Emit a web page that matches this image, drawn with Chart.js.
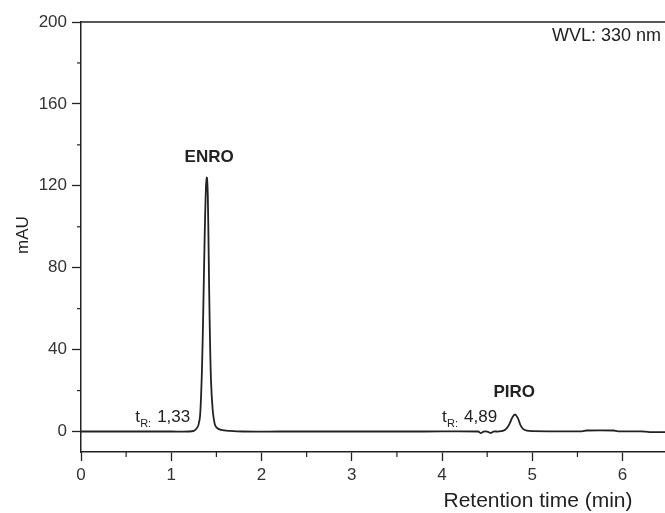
<!DOCTYPE html>
<html>
<head>
<meta charset="utf-8">
<script src="https://cdn.jsdelivr.net/npm/chart.js@4"></script>
<style>
  html, body { margin: 0; padding: 0; background: #fff; }
  #wrap { width: 665px; height: 513px; }
</style>
</head>
<body>
<div id="wrap"><canvas id="chrom" width="665" height="513"></canvas></div>
<script>
// chromatogram (time in min, absorbance in mAU)
var timeMin = [0, 0.5, 1.0, 1.2, 1.25, 1.28, 1.30, 1.32, 1.34, 1.355, 1.37, 1.385, 1.395, 1.405, 1.415, 1.425, 1.44, 1.46, 1.48, 1.50, 1.55, 1.65, 1.8, 2.2, 3.0, 3.8, 4.4, 4.43, 4.46, 4.5, 4.54, 4.57, 4.62, 4.68, 4.72, 4.75, 4.78, 4.81, 4.84, 4.87, 4.9, 4.94, 5.0, 5.3, 5.55, 5.6, 5.9, 5.95, 6.2, 6.3, 6.5];
var absorbance = [0, 0, 0, 0, 0.3, 1.5, 3, 8, 30, 60, 95, 120, 124, 115, 85, 55, 25, 10, 4, 2, 0.8, 0.3, 0, 0, 0, 0, 0, -0.8, 0, 0, -0.7, 0, 0, 0.4, 1.8, 4, 7, 8.3, 6.5, 3, 1.2, 0.4, 0.2, 0.1, 0.1, 0.5, 0.5, 0.1, 0.1, -0.3, -0.3];

var xTicks = [0, 1, 2, 3, 4, 5, 6];
var xMinor = [0.5, 1.5, 2.5, 3.5, 4.5, 5.5];
var yTicks = [0, 40, 80, 120, 160, 200];
var yMinor = [20, 60, 100, 140, 180];

var peakNames = ["ENRO", "PIRO"];
var peakNameAt = [[1.42, 131.5], [4.8, 16.8]];
var rtLabels = ["1,33", "4,89"];
var rtLabelAt = [[0.6, 4.5], [4.0, 4.5]];

var points = [];
for (var i = 0; i < timeMin.length; i++) points.push({ x: timeMin[i], y: absorbance[i] });

var FONT = "'Liberation Sans', Arial, sans-serif";
var INK = "#222";

var decor = {
  id: "decor",
  afterDraw: function(chart) {
    var ctx = chart.ctx, a = chart.chartArea;
    var xs = chart.scales.x, ys = chart.scales.y;
    ctx.save();
    ctx.strokeStyle = INK;
    ctx.lineWidth = 1.5;
    // top frame
    ctx.beginPath();
    ctx.moveTo(a.left, a.top);
    ctx.lineTo(a.right, a.top);
    ctx.stroke();
    // minor ticks
    ctx.lineWidth = 1.2;
    yMinor.forEach(function(v) {
      var p = ys.getPixelForValue(v);
      ctx.beginPath(); ctx.moveTo(a.left - 4, p); ctx.lineTo(a.left, p); ctx.stroke();
    });
    xMinor.forEach(function(v) {
      var p = xs.getPixelForValue(v);
      ctx.beginPath(); ctx.moveTo(p, a.bottom); ctx.lineTo(p, a.bottom + 5); ctx.stroke();
    });
    // axis titles
    ctx.fillStyle = INK;
    ctx.font = "21px " + FONT;
    ctx.textAlign = "center";
    ctx.textBaseline = "middle";
    ctx.fillText("Retention time (min)", 538, 501);
    ctx.save();
    ctx.translate(23, 235);
    ctx.rotate(-Math.PI / 2);
    ctx.font = "17px " + FONT;
    ctx.fillText("mAU", 0, 0);
    ctx.restore();
    // wavelength note
    ctx.font = "18px " + FONT;
    ctx.textAlign = "left";
    ctx.fillText("WVL: 330 nm", 552, 36);
    // peak names
    ctx.font = "bold 17px " + FONT;
    ctx.textAlign = "center";
    ctx.textBaseline = "alphabetic";
    for (var k = 0; k < peakNames.length; k++) {
      ctx.fillText(peakNames[k], xs.getPixelForValue(peakNameAt[k][0]), ys.getPixelForValue(peakNameAt[k][1]));
    }
    // retention time labels
    ctx.textAlign = "left";
    for (var j = 0; j < rtLabels.length; j++) {
      var px = xs.getPixelForValue(rtLabelAt[j][0]);
      var py = ys.getPixelForValue(rtLabelAt[j][1]);
      ctx.font = "17px " + FONT;
      ctx.fillText("t", px, py);
      ctx.font = "11px " + FONT;
      ctx.fillText("R:", px + 5, py + 5);
      ctx.font = "17px " + FONT;
      ctx.fillText(rtLabels[j], px + 22, py);
    }
    ctx.restore();
  }
};

new Chart(document.getElementById("chrom"), {
  type: "scatter",
  data: {
    datasets: [{
      data: points,
      showLine: true,
      borderColor: INK,
      borderWidth: 1.8,
      pointRadius: 0,
      tension: 0.3,
      fill: false
    }]
  },
  options: {
    responsive: false,
    animation: false,
    devicePixelRatio: 1,
    layout: { padding: { top: 22, right: 0, left: 0, bottom: 0 } },
    plugins: { legend: { display: false }, tooltip: { enabled: false } },
    scales: {
      x: {
        type: "linear",
        min: 0,
        max: 6.47,
        afterBuildTicks: function(s) { s.ticks = xTicks.map(function(v) { return { value: v }; }); },
        afterFit: function(s) { s.height = 61; },
        grid: { drawOnChartArea: false, tickLength: 9, tickColor: INK, tickWidth: 1.3 },
        border: { color: INK, width: 1.5 },
        ticks: { color: "#333", font: { family: FONT, size: 17 }, padding: 4, maxRotation: 0 }
      },
      y: {
        type: "linear",
        min: -10,
        max: 200,
        afterBuildTicks: function(s) { s.ticks = yTicks.map(function(v) { return { value: v }; }); },
        afterFit: function(s) { s.width = 81; },
        grid: { drawOnChartArea: false, tickLength: 9, tickColor: INK, tickWidth: 1.3 },
        border: { color: INK, width: 1.5 },
        ticks: { color: "#333", font: { family: FONT, size: 17 }, padding: 5 }
      }
    }
  },
  plugins: [decor]
});
</script>
</body>
</html>
